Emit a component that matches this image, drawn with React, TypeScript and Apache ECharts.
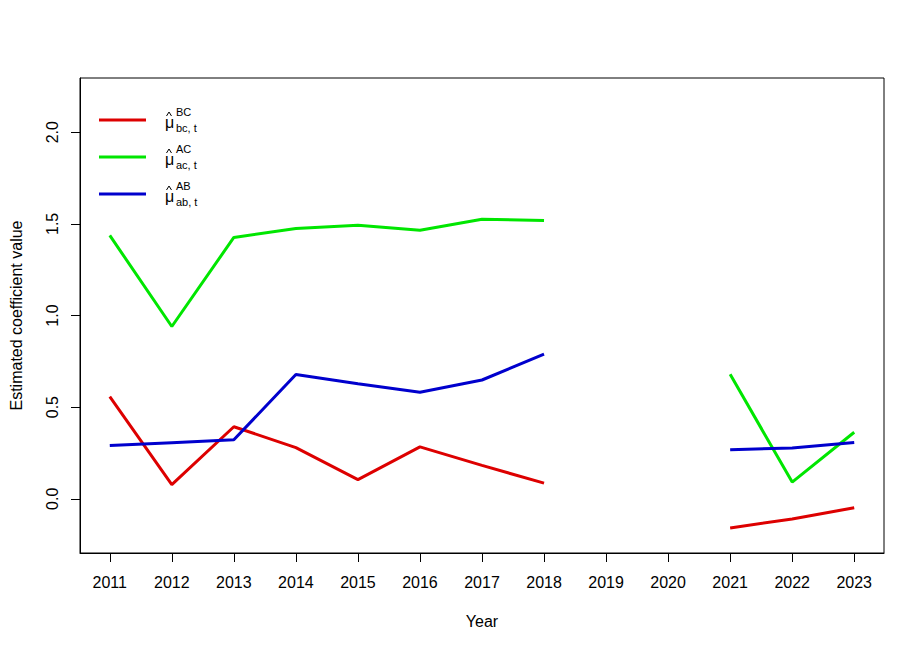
import React, { useEffect, useRef } from "react";
import * as echarts from "echarts";

const years = [2011, 2012, 2013, 2014, 2015, 2016, 2017, 2018, 2019, 2020, 2021, 2022, 2023];
const muBC = [0.557, 0.077, 0.393, 0.279, 0.104, 0.283, 0.182, 0.085, null, null, -0.159, -0.11, -0.049];
const muAC = [1.437, 0.94, 1.426, 1.475, 1.492, 1.465, 1.525, 1.518, null, null, 0.679, 0.091, 0.363];
const muAB = [0.29, 0.306, 0.322, 0.678, 0.628, 0.581, 0.648, 0.789, null, null, 0.268, 0.277, 0.307];
const yTicks = [0, 0.5, 1.0, 1.5, 2.0];

const seriesDefs = [
  { name: "BC", sup: "BC", sub: "bc, t", color: "#DD0000", values: muBC },
  { name: "AC", sup: "AC", sub: "ac, t", color: "#00E600", values: muAC },
  { name: "AB", sup: "AB", sub: "ab, t", color: "#0000CD", values: muAB },
];

const FONT = "'Liberation Sans', Arial, sans-serif";

export default function App() {
  const ref = useRef<HTMLDivElement>(null);
  useEffect(() => {
    if (!ref.current) return;
    const chart = echarts.init(ref.current, null, { renderer: "svg" });

    const legendEls: any[] = [];
    seriesDefs.forEach((s, i) => {
      const y0 = 120 + 37 * i;
      legendEls.push(
        { type: "line", shape: { x1: 99, y1: y0, x2: 146, y2: y0 }, style: { stroke: s.color, lineWidth: 3 } },
        { type: "polyline", shape: { points: [[166.5, y0 - 4], [169, y0 - 8], [171.5, y0 - 4]] }, style: { stroke: "#000", lineWidth: 1, fill: null } },
        { type: "text", x: 165, y: y0 + 2, style: { text: "μ", font: `16px ${FONT}`, fill: "#000", textAlign: "left", textVerticalAlign: "middle" } },
        { type: "text", x: 176, y: y0 - 8, style: { text: s.sup, font: `11px ${FONT}`, fill: "#000", textAlign: "left", textVerticalAlign: "middle" } },
        { type: "text", x: 176, y: y0 + 8, style: { text: s.sub, font: `11px ${FONT}`, fill: "#000", textAlign: "left", textVerticalAlign: "middle" } }
      );
    });

    chart.setOption({
      animation: false,
      backgroundColor: "#fff",
      textStyle: { fontFamily: FONT },
      grid: { left: 78, top: 78, right: 40, bottom: 98, show: true, borderColor: "#000", borderWidth: 1, containLabel: false },
      xAxis: {
        type: "value",
        min: 2010.52,
        max: 2023.48,
        name: "Year",
        nameLocation: "middle",
        nameGap: 60,
        nameTextStyle: { fontSize: 16, color: "#000", fontFamily: FONT },
        axisLine: { show: true, onZero: false, lineStyle: { color: "#000", width: 1 } },
        axisTick: { show: true, inside: false, length: 9, customValues: years, lineStyle: { color: "#000" } },
        axisLabel: { show: true, margin: 21, fontSize: 16, color: "#000", fontFamily: FONT, customValues: years, formatter: (v: number) => String(Math.round(v)) },
        splitLine: { show: false },
      },
      yAxis: {
        type: "value",
        min: -0.296,
        max: 2.296,
        name: "Estimated coefficient value",
        nameLocation: "middle",
        nameGap: 56,
        nameRotate: 90,
        nameTextStyle: { fontSize: 16, color: "#000", fontFamily: FONT },
        axisLine: { show: true, onZero: false, lineStyle: { color: "#000", width: 1 } },
        axisTick: { show: true, inside: false, length: 9, customValues: yTicks, lineStyle: { color: "#000" } },
        axisLabel: { show: true, margin: 20, rotate: 90, fontSize: 16, color: "#000", fontFamily: FONT, customValues: yTicks, formatter: (v: number) => v.toFixed(1) },
        splitLine: { show: false },
      },
      series: seriesDefs.map((s) => ({
        name: s.name,
        type: "line",
        data: years.map((yr, i) => [yr, s.values[i] === null ? "-" : s.values[i]]),
        showSymbol: false,
        symbol: "none",
        connectNulls: false,
        lineStyle: { color: s.color, width: 3 },
        itemStyle: { color: s.color },
      })),
      graphic: legendEls,
    });
    return () => chart.dispose();
  }, []);
  return <div ref={ref} style={{ position: "fixed", left: 0, top: 0, width: 924, height: 651, background: "#fff" }} />;
}
